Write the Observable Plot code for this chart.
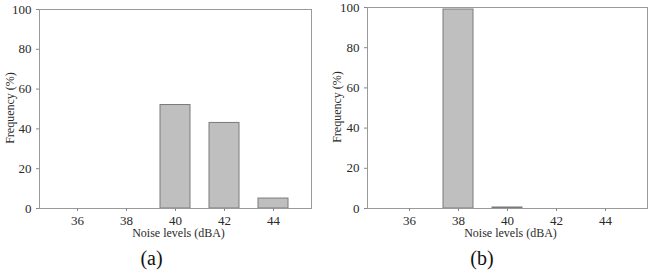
<!DOCTYPE html>
<html><head><meta charset="utf-8">
<script src="https://cdn.jsdelivr.net/npm/d3@7"></script>
<script src="https://cdn.jsdelivr.net/npm/@observablehq/plot@0.6"></script>
<style>
body{margin:0;background:#fff;}
#wrap{position:relative;width:650px;height:271px;font-family:"Liberation Serif",serif;overflow:hidden;}
.panel{position:absolute;top:0;}
.panel svg, .panel svg text{font-family:"Liberation Serif", serif !important;}
.cap{position:absolute;font-size:20px;line-height:20px;color:#111;transform:translate(-50%,-50%);white-space:nowrap;}
</style></head><body>
<div id="wrap"></div>
<script>
const levels = [36, 38, 40, 42, 44];
const freqA = [0, 0, 52, 43, 5];
const freqB = [0, 99, 0.5, 0, 0];
const yTicks = [0, 20, 40, 60, 80, 100];
const xLabel = "Noise levels (dBA)";
const yLabel = "Frequency (%)";
const captions = ["(a)", "(b)"];

const FONT = "Liberation Serif";

function panel(values, m) {
  const data = levels.map((l, i) => ({level: String(l), freq: values[i]}));
  return Plot.plot({
    width: 325, height: 271,
    marginLeft: m.left, marginRight: m.right, marginTop: m.top, marginBottom: 63,
    style: {fontFamily: FONT, fontSize: "13px", color: "#2a2a2a", background: "transparent"},
    x: {type: "band", domain: levels.map(String), paddingInner: 0.39, paddingOuter: m.outer},
    y: {domain: [0, 100]},
    marks: [
      Plot.rectY(data.filter(d => d.freq > 0), {x: "level", y: "freq", fill: "#bfbfbf", stroke: "#7a7a7a", strokeWidth: 1}),
      Plot.frame({stroke: "#9a9a9a"}),
      Plot.axisX({tickSize: 3, tickPadding: 4, stroke: "#888", fill: "#2a2a2a", fontSize: 13, fontFamily: FONT, label: null}),
      Plot.axisY({ticks: yTicks, tickSize: 3, tickPadding: 5, stroke: "#888", fill: "#2a2a2a", fontSize: 13, fontFamily: FONT, label: null}),
      Plot.text([xLabel], {frameAnchor: "bottom", textAnchor: "middle", lineAnchor: "middle", dy: 25, dx: 3, fontSize: 12, fontFamily: FONT, fill: "#2a2a2a"}),
      Plot.text([yLabel], {frameAnchor: "left", textAnchor: "middle", lineAnchor: "middle", rotate: -90, dx: m.ylab, dy: -1, fontSize: 12, fontFamily: FONT, fill: "#2a2a2a"})
    ]
  });
}

const wrap = document.getElementById("wrap");
const specs = [
  {vals: freqA, left: 39, right: 14, top: 9, outer: 0.445, ylab: -29, off: 0, cx: 151.5},
  {vals: freqB, left: 42, right: 3, top: 7, outer: 0.495, ylab: -30.5, off: 325, cx: 482}
];
specs.forEach((s, i) => {
  const div = document.createElement("div");
  div.className = "panel";
  div.style.left = s.off + "px";
  div.appendChild(panel(s.vals, s));
  wrap.appendChild(div);
  const cap = document.createElement("div");
  cap.className = "cap";
  cap.style.left = s.cx + "px";
  cap.style.top = "258px";
  cap.textContent = captions[i];
  wrap.appendChild(cap);
});
</script>
</body></html>
